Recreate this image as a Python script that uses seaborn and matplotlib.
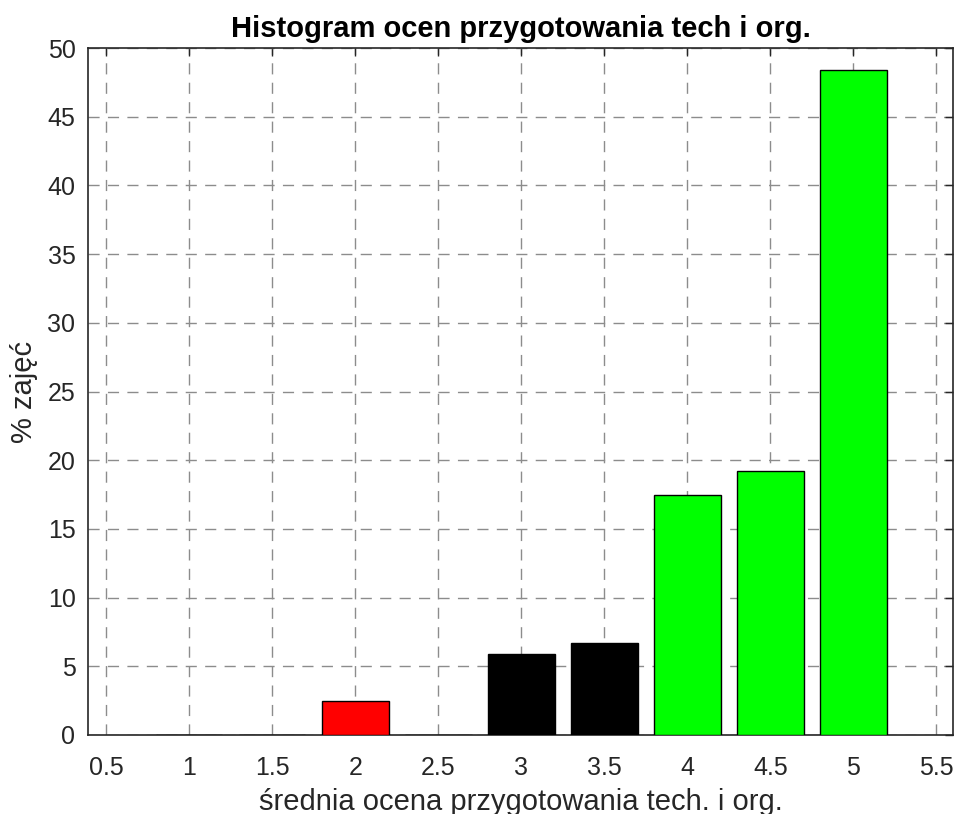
import matplotlib
matplotlib.use("Agg")
import pandas as pd
import matplotlib.pyplot as plt
import seaborn as sns

# dane
oceny = [1.0, 1.5, 2.0, 2.5, 3.0, 3.5, 4.0, 4.5, 5.0]
procent_zajec = [0.0, 0.0, 2.5, 0.0, 5.9, 6.7, 17.5, 19.2, 48.4]
grupa = ["zle", "zle", "zle", "zle", "srednie", "srednie", "dobre", "dobre", "dobre"]
kolory = {"zle": "#ff0000", "srednie": "#000000", "dobre": "#00ff00"}
xticks = [0.5, 1, 1.5, 2, 2.5, 3, 3.5, 4, 4.5, 5, 5.5]
xtick_labels = ["0.5", "1", "1.5", "2", "2.5", "3", "3.5", "4", "4.5", "5", "5.5"]
yticks = list(range(0, 51, 5))

sns.set_style("white")
plt.rcParams["font.family"] = ["Liberation Sans", "DejaVu Sans"]

df = pd.DataFrame({"ocena": oceny, "procent": procent_zajec, "grupa": grupa})

fig = plt.figure(figsize=(9.59, 8.14), dpi=100)
ax = fig.add_axes([88 / 959, (814 - 735) / 814, (953 - 88) / 959, (735 - 48) / 814])

sns.barplot(
    data=df, x="ocena", y="procent", hue="grupa", palette=kolory,
    native_scale=True, dodge=False, width=0.8, edgecolor="black",
    linewidth=1, saturation=1, legend=False, ax=ax, zorder=3
)

ax.set_ylim(0, 50)
ax.set_xticks(xticks)
ax.set_xticklabels(xtick_labels)
ax.set_yticks(yticks)
ax.set_xlim(0.39, 5.6)

ax.grid(True, linestyle=(0, (8, 6)), color="#8c8c8c", linewidth=1, zorder=0)
ax.set_axisbelow(True)
ax.tick_params(direction="in", length=6, width=1, colors="#262626",
               labelsize=18, top=True, right=True)
ax.tick_params(axis="x", pad=15)
ax.tick_params(axis="y", pad=9)
for s in ax.spines.values():
    s.set_color("#262626")
    s.set_linewidth(1.2)
    s.set_visible(True)

ax.set_title("Histogram ocen przygotowania tech i org.", fontsize=21,
             fontweight="bold", pad=8, color="black")
ax.set_xlabel("średnia ocena przygotowania tech. i org.", fontsize=21,
              color="#262626", labelpad=6)
ax.set_ylabel("% zajęć", fontsize=21, color="#262626", labelpad=7)

fig.savefig("out.png", dpi=100)
plt.close("all")
